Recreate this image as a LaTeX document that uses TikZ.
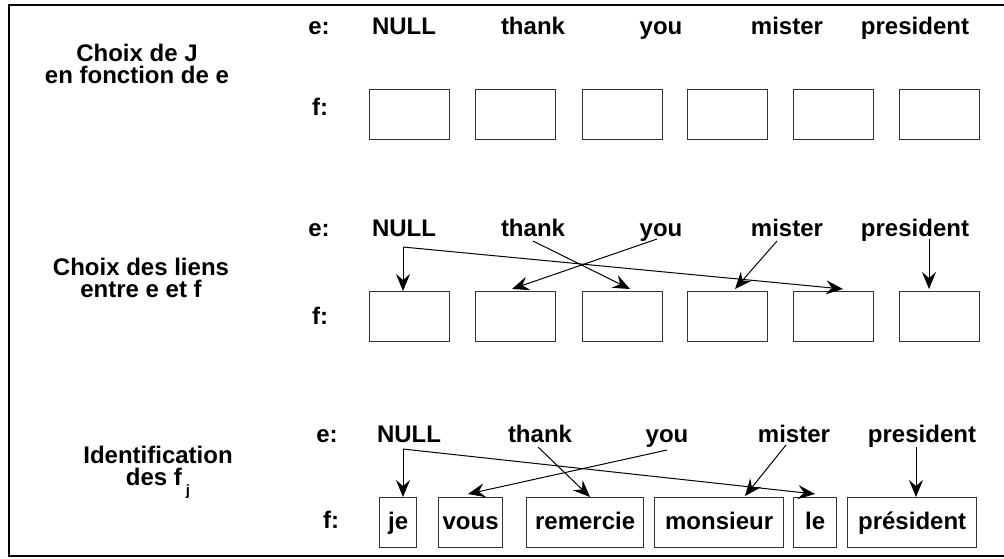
\documentclass[tikz,border=0pt]{standalone}
\usepackage{fontspec}
\setmainfont{Liberation Sans}
\usetikzlibrary{arrows.meta,calc}
\begin{document}
\begin{tikzpicture}[x=1pt,y=-1pt,
  word/.style={font=\fontsize{24}{24}\selectfont\bfseries, anchor=base, inner sep=0pt},
  lab/.style={font=\fontsize{24}{22}\selectfont\bfseries, align=center, inner sep=0pt},
  fbox/.style={draw=black!80, line width=1.3pt, minimum width=80pt, minimum height=50pt, inner sep=0pt, anchor=north west},
  wbox/.style={draw=black!80, line width=1.3pt, minimum height=50pt, inner sep=0pt, anchor=north west, font=\fontsize{24}{24}\selectfont\bfseries, text height=18pt, text depth=5pt},
  arr/.style={line width=1pt, -{Stealth[length=17pt,width=14pt,inset=6pt]}},
]
\useasboundingbox (0,0) rectangle (1004,558);
\draw[line width=2.6pt, line join=miter] (1004,5) -- (9,5) -- (9,556) -- (1004,556);

% ---------- Row 1
\node[lab] (l1) at (137,64) {Choix de J\\en fonction de e};
\node[word] (e1) at (319,34) {e:};
\node[word] (n1) at (404,34) {NULL};
\node[word] (t1) at (533,34) {thank};
\node[word] (y1) at (661,34) {you};
\node[word] (m1) at (787,34) {mister};
\node[word] (p1) at (915,34) {president};
\node[word] (f1) at (320,115) {f:};
\node[fbox] (b11) at (369,89) {};
\node[fbox] (b12) at (475,89) {};
\node[fbox] (b13) at (582,89) {};
\node[fbox] (b14) at (687,89) {};
\node[fbox] (b15) at (793,89) {};
\node[fbox] (b16) at (899,89) {};

% ---------- Row 2
\node[lab] (l2) at (141,278) {Choix des liens\\entre e et f};
\node[word] (e2) at (319,236) {e:};
\node[word] (n2) at (404,236) {NULL};
\node[word] (t2) at (533,236) {thank};
\node[word] (y2) at (661,236) {you};
\node[word] (m2) at (787,236) {mister};
\node[word] (p2) at (915,236) {president};
\node[word] (f2) at (320,324) {f:};
\node[fbox] (b21) at (369,291) {};
\node[fbox] (b22) at (475,291) {};
\node[fbox] (b23) at (582,291) {};
\node[fbox] (b24) at (687,291) {};
\node[fbox] (b25) at (793,291) {};
\node[fbox] (b26) at (899,291) {};

\coordinate (c2) at ($(n2.base)+(-1,11)$);
\draw[arr] (c2) -- ($(b21.north west)+(34,0)$);
\draw[arr] (c2) -- ($(b25.north west)+(50,-2)$);
\draw[arr] ($(t2.base)+(0,5)$) -- ($(b23.north west)+(48,-2)$);
\draw[arr] ($(y2.base)+(-4,3)$) -- ($(b22.north west)+(37,-2)$);
\draw[arr] ($(m2.base)+(-10,5)$) -- ($(b24.north west)+(48,-2)$);
\draw[arr] ($(p2.base)+(14,3)$) -- ($(b26.north west)+(30,-2)$);

% ---------- Row 3
\node[lab] (l3) at (158,472) {Identification\\des f\,\raisebox{-10pt}{\fontsize{15}{15}\selectfont j}};
\node[word] (e3) at (327,442) {e:};
\node[word] (n3) at (409,442) {NULL};
\node[word] (t3) at (540,442) {thank};
\node[word] (y3) at (667,442) {you};
\node[word] (m3) at (794,442) {mister};
\node[word] (p3) at (922,442) {president};
\node[word] (f3) at (331,528) {f:};
\node[wbox, minimum width=37pt] (je) at (379,497) {je};
\node[wbox, minimum width=64pt] (vous) at (438,497) {vous};
\node[wbox, minimum width=117pt] (rem) at (526,497) {remercie};
\node[wbox, minimum width=129pt] (mon) at (654,497) {monsieur};
\node[wbox, minimum width=43pt] (le) at (793,497) {le};
\node[wbox, minimum width=129pt] (pre) at (847,497) {président};

\coordinate (c3) at ($(n3.base)+(-6,7)$);
\draw[arr] (c3) -- ($(je.north west)+(24,0)$);
\draw[arr] (c3) -- ($(le.north west)+(22,-3)$);
\draw[arr] ($(t3.base)+(-2,5)$) -- ($(rem.north west)+(64,0)$);
\draw[arr] ($(y3.base)+(0,8)$) -- ($(vous.north west)+(30,-3)$);
\draw[arr] ($(m3.base)+(-8,3)$) -- ($(mon.north west)+(91,-1)$);
\draw[arr] ($(p3.base)+(-6,5)$) -- ($(pre.north west)+(69,0)$);
\end{tikzpicture}
\end{document}
